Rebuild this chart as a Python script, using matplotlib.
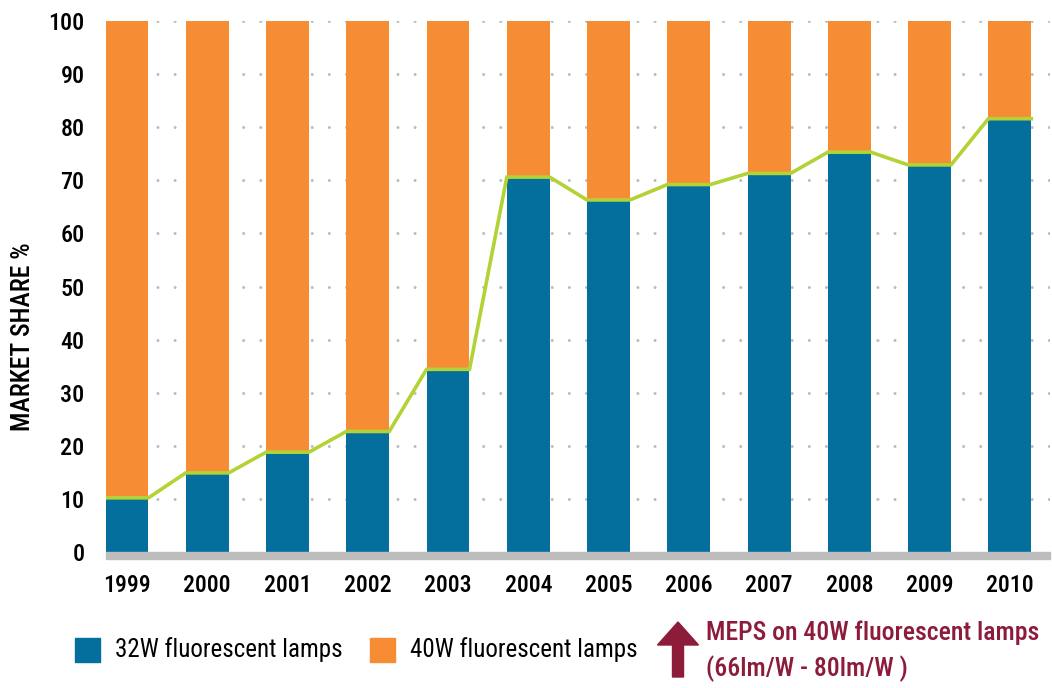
import os
import matplotlib
matplotlib.use("Agg")
import matplotlib.pyplot as plt
import numpy as np
from matplotlib.patches import FancyArrow, Rectangle
from matplotlib import font_manager
from matplotlib.font_manager import FontProperties

years = ["1999", "2000", "2001", "2002", "2003", "2004", "2005", "2006", "2007", "2008", "2009", "2010"]
share_32w = [10.2, 14.9, 18.8, 22.7, 34.4, 70.6, 66.3, 69.2, 71.3, 75.3, 72.9, 81.6]
share_40w = [100 - v for v in share_32w]
series_labels = ["32W fluorescent lamps", "40W fluorescent lamps"]
yticks = [0, 10, 20, 30, 40, 50, 60, 70, 80, 90, 100]
ylabel = "MARKET SHARE %"
note_lines = ["MEPS on 40W fluorescent lamps", "(66lm/W - 80lm/W )"]

BLUE = "#046e9c"
ORANGE = "#f68d34"
GREEN = "#b3d236"
MAROON = "#8c1c3a"
GRIDC = "#bdbdbd"

# choose a condensed font if available
fam, stretch = None, "normal"
entries = font_manager.fontManager.ttflist
pref = ["Liberation Sans Narrow", "Roboto Condensed", "Open Sans Condensed", "Noto Sans Condensed"]
names = {f.name for f in entries}
for p in pref:
    if p in names:
        fam = p
        break
if fam is None:
    for f in entries:
        if f.name in ("DejaVu Sans", "Noto Sans", "Open Sans", "Roboto") and str(f.stretch) in ("condensed", "semi-condensed", "75", "87"):
            fam, stretch = f.name, "condensed"
            break
if fam is None:
    for f in entries:
        if "condensed" in f.name.lower() or "narrow" in f.name.lower():
            fam = f.name
            break
if fam is None:
    fam = "Roboto" if "Roboto" in names else "DejaVu Sans"
plt.rcParams["font.family"] = [fam, "DejaVu Sans"]
plt.rcParams["font.stretch"] = stretch

fig = plt.figure(figsize=(10.52, 6.88), dpi=100)
renderer = fig.canvas.get_renderer()


def fit(s, target_px, max_size, weight="normal"):
    fp = FontProperties(family=[fam, "DejaVu Sans"], stretch=stretch, weight=weight, size=10)
    w, h, d = renderer.get_text_width_height_descent(s, fp, ismath=False)
    return min(max_size, 10 * target_px / w)


AX_L, AX_R, AX_T, AX_B = 105.5, 1050, 21, 552
ax = fig.add_axes([AX_L / 1052, 1 - AX_B / 688, (AX_R - AX_L) / 1052, (AX_B - AX_T) / 688])

x = np.arange(len(years))
w = 0.535
b1 = ax.bar(x, share_32w, width=w, color=BLUE, zorder=2, label=series_labels[0])
b2 = ax.bar(x, share_40w, width=w, bottom=share_32w, color=ORANGE, zorder=2, label=series_labels[1])

lx, ly = [], []
for xi, v in zip(x, share_32w):
    lx += [xi - w / 2, xi + w / 2]
    ly += [v, v]
ax.plot(lx, ly, color=GREEN, lw=2.6, zorder=3, solid_joinstyle="miter")

ax.set_xlim(-w / 2, len(years) - 1 + 0.5)
ax.set_ylim(0, 100)

for s in ["top", "right", "left", "bottom"]:
    ax.spines[s].set_visible(False)

ysz = fit("100", 36, 21, weight="medium")
xsz = fit("1999", 47, 21, weight="medium")
ax.set_yticks(yticks)
ax.set_yticklabels([str(t) for t in yticks])
ax.set_xticks(x)
ax.set_xticklabels(years)
ax.tick_params(axis="y", length=0, pad=15, labelsize=ysz)
ax.tick_params(axis="x", length=0, pad=16, labelsize=xsz)
for lab in ax.get_xticklabels() + ax.get_yticklabels():
    lab.set_fontweight("medium")

for t in yticks[1:]:
    ax.axhline(t, color=GRIDC, lw=2.2, linestyle=(0, (0.01, 5.6)), dash_capstyle="round", zorder=1)

# grey baseline just below the axes
fig.patches.append(Rectangle((AX_L / 1052, 1 - 559.3 / 688), (AX_R - AX_L) / 1052, 7.3 / 688,
                             color=GRIDC, transform=fig.transFigure, zorder=5))

ylsz = fit(ylabel, 187, 19, weight="medium")
fig.text(23 / 1052, 1 - 337 / 688, ylabel, rotation=90, fontsize=ylsz, fontweight="medium",
         ha="center", va="center")

# legend (manual layout)
lsz = fit(series_labels[0], 228, 18)
fig.patches.append(Rectangle((75 / 1052, 1 - 662 / 688), 25 / 1052, 24 / 688, color=BLUE,
                             transform=fig.transFigure))
fig.patches.append(Rectangle((370 / 1052, 1 - 662 / 688), 25 / 1052, 24 / 688, color=ORANGE,
                             transform=fig.transFigure))
fig.text(115 / 1052, 1 - 650 / 688, series_labels[0], fontsize=lsz, va="center", ha="left")
fig.text(410 / 1052, 1 - 650 / 688, series_labels[1], fontsize=lsz, va="center", ha="left")

# arrow + note
arrow = FancyArrow(6.78, 0.11, 0, 0.55, width=0.11, head_width=0.41, head_length=0.23,
                   length_includes_head=True, color=MAROON, transform=fig.dpi_scale_trans)
fig.patches.append(arrow)
nsz = fit(note_lines[0], 333, 20, weight="medium")
fig.text(706 / 1052, 1 - 633 / 688, note_lines[0], color=MAROON, fontsize=nsz, fontweight="medium",
         va="center", ha="left")
fig.text(706 / 1052, 1 - 669 / 688, note_lines[1], color=MAROON, fontsize=nsz, fontweight="medium",
         va="center", ha="left")

fig.savefig("out.png", dpi=100)
